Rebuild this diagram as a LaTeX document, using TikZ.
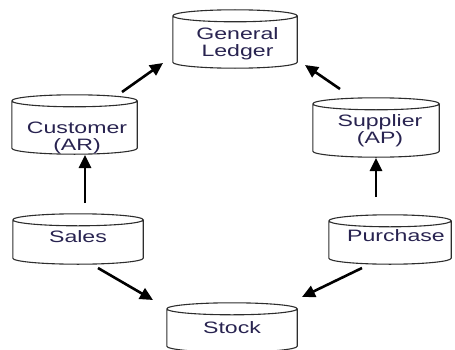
\documentclass[tikz,border=0pt]{standalone}
\usepackage{fontspec}
\newfontfamily\lblfont[FakeStretch=1.4]{Liberation Sans}
\usetikzlibrary{arrows.meta,calc}
\definecolor{txtc}{RGB}{40,35,80}
\definecolor{cylc}{RGB}{45,45,45}
\tikzset{
  cylbox/.style={rectangle,draw=none,inner sep=0pt},
  lbl/.style={text=txtc,align=center,inner sep=0pt,font=\lblfont\fontsize{16.5}{17}\selectfont},
  cylline/.style={draw=cylc,line width=1.1pt},
  flow/.style={draw=black,line width=2.6pt,-{Triangle[length=13pt,width=12pt]}}
}
\newcommand\cylpath[1]{%
  \draw[cylline] let \p1=(#1.south west), \p2=(#1.north east), \n1={(\x2-\x1)/2} in
    (\x1,{\y2-6pt}) -- (\x1,{\y1+6pt})
    arc[start angle=180,end angle=360,x radius=\n1,y radius=6pt]
    -- (\x2,{\y2-6pt})
    (\x1,{\y2-6pt}) arc[start angle=180,end angle=540,x radius=\n1,y radius=6pt];
}
\begin{document}
\begin{tikzpicture}[x=1pt,y=1pt]
\useasboundingbox (0,0) rectangle (455,349);
% cylinders (centres in TeX coords: y = 349 - y_image)
\node[cylbox,minimum width=124pt,minimum height=58pt] (gl) at (235,310) {};
\node[cylbox,minimum width=125pt,minimum height=59pt] (cust) at (74.5,224.5) {};
\node[cylbox,minimum width=126pt,minimum height=59pt] (sup) at (376,221.5) {};
\node[cylbox,minimum width=130pt,minimum height=50pt] (sales) at (78,110) {};
\node[cylbox,minimum width=122pt,minimum height=49pt] (purch) at (390,109.5) {};
\node[cylbox,minimum width=130pt,minimum height=49pt] (stock) at (232,21.5) {};
\cylpath{gl}
\cylpath{cust}
\cylpath{sup}
\cylpath{sales}
\cylpath{purch}
\cylpath{stock}
% labels
\node[lbl] (gl-t) at (237.5,305) {General\\Ledger};
\node[lbl] (cust-t) at (77,211) {Customer\\(AR)};
\node[lbl] (sup-t) at (380,218) {Supplier\\(AP)};
\node[lbl] (sales-t) at (78,112) {Sales};
\node[lbl] (purch-t) at (396,113) {Purchase};
\node[lbl] (stock-t) at (232,21) {Stock};
% connectors
\draw[flow] ($(cust.center)+(47.5,32.5)$) -- ($(gl.center)+(-72,-24)$);
\draw[flow] ($(sup.center)+(-36,38.5)$) -- ($(gl.center)+(70,-26)$);
\draw[flow] ($(sales.center)+(7,36)$) -- ($(cust.center)+(10.5,-30.5)$);
\draw[flow] ($(purch.center)+(-14,42.5)$) -- ($(sup.center)+(0,-30.5)$);
\draw[flow] ($(sales.center)+(20,-29)$) -- ($(stock.center)+(-79,27.5)$);
\draw[flow] ($(purch.center)+(-28,-28.5)$) -- ($(stock.center)+(70,30.5)$);
\end{tikzpicture}
\end{document}
